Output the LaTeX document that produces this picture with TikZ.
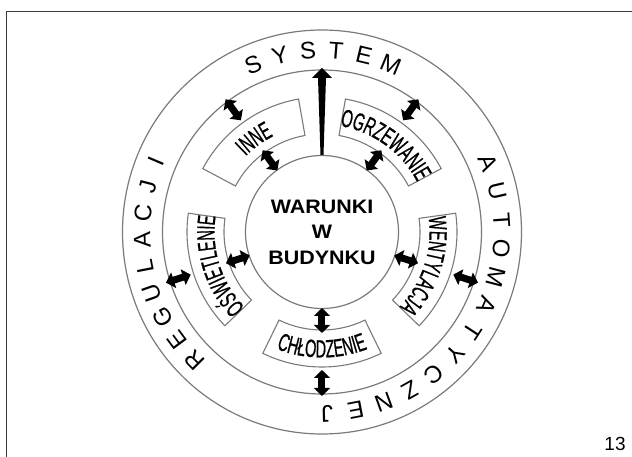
\documentclass[tikz,border=0pt]{standalone}
\usepackage{fontspec}
\setmainfont{Liberation Sans}
\newfontfamily\narrowfont[FakeStretch=0.58, FakeBold=0.6]{Liberation Sans}
\newfontfamily\widefont[FakeStretch=1.1]{Liberation Sans}
\usetikzlibrary{arrows.meta, decorations.text, calc}
\definecolor{RingGray}{HTML}{7A7A7A}
\definecolor{FrameGray}{HTML}{3A3A3A}
\newcommand{\boxfont}{\narrowfont\fontsize{25}{25}\selectfont}

\tikzset{
  ring/.style={draw=RingGray, line width=1.2pt},
  sectorbox/.style={draw=RingGray, line width=1.1pt},
  link/.style={line width=7pt,
    {Triangle[length=8pt,width=16pt]}-{Triangle[length=8pt,width=16pt]}},
  ringletter/.style={inner sep=0pt, font=\fontsize{24}{24}\selectfont},
  boxlabel/.style={decorate, decoration={text along path, text align=center,
    text={|\boxfont|#1}}}
}

\begin{document}
\begin{tikzpicture}[x=1pt, y=1pt]
  \useasboundingbox (-322,-225) rectangle (310,232);

  % Slide frame
  \draw[FrameGray, line width=1.6pt] (-315.5,-225) -- (-315.5,220.5) -- (310,220.5);

  % Rings
  \draw[ring] (0,0) ellipse [x radius=199.5pt, y radius=202pt];
  \draw[ring] (0,0) ellipse [x radius=159.5pt, y radius=162pt];
  \node[ring, circle, minimum size=153pt, inner sep=0pt, align=center,
        font=\widefont\bfseries\fontsize{19.5}{25.5}\selectfont] (core) at (0,0)
    {WARUNKI\\W\\BUDYNKU};

  % Sector boxes
  \foreach \a in {126,54,-18,-90,198}
    \draw[sectorbox] ({\a+26}:98pt) arc[start angle={\a+26}, end angle={\a-26}, radius=98pt]
      -- ({\a-26}:135pt) arc[start angle={\a-26}, end angle={\a+26}, radius=135pt] -- cycle;

  % Box labels
  \path[boxlabel=INNE] (166:107.5pt) arc[start angle=166, end angle=86, radius=107.5pt];
  \path[boxlabel=OGRZEWANIE] (94:107.5pt) arc[start angle=94, end angle=14, radius=107.5pt];
  \path[boxlabel=WENTYLACJA] (22:107.5pt) arc[start angle=22, end angle=-58, radius=107.5pt];
  \path[boxlabel=OŚWIETLENIE] (238:107.5pt) arc[start angle=238, end angle=158, radius=107.5pt];
  \path[boxlabel=CHŁODZENIE] (-130:125.5pt) arc[start angle=-130, end angle=-50, radius=125.5pt];

  % Double arrows between core, boxes and ring
  \foreach \a [count=\i] in {126,54,-18,-90,198} {
    \coordinate (ina\i) at (\a:76pt);
    \coordinate (inb\i) at (\a:101pt);
    \coordinate (outa\i) at (\a:138pt);
    \coordinate (outb\i) at (\a:164pt);
    \draw[link] (ina\i) -- (inb\i);
    \draw[link] (outa\i) -- (outb\i);
  }

  % Main output arrow
  \coordinate (ringtop) at (0,164);
  \fill ($(core.north)+(-1.5,0)$) -- ($(ringtop)+(-4,-10)$) -- ($(ringtop)+(-10,-10)$)
    -- (ringtop) -- ($(ringtop)+(10,-10)$) -- ($(ringtop)+(4,-10)$)
    -- ($(core.north)+(1.5,0)$) -- cycle;

  % Ring text
  \foreach \ch [count=\i from 0, evaluate=\i as \a using 112.5-9*\i] in {S,Y,S,T,E,M}
    \node[ringletter, rotate=\a-90] (sys\i) at (\a:180pt and 181.5pt) {\ch};
  \foreach \ch [count=\i from 0, evaluate=\i as \a using 22.3-9.225*\i] in {A,U,T,O,M,A,T,Y,C,Z,N,E,J}
    \node[ringletter, rotate=\a-90] (aut\i) at (\a:180pt and 181.5pt) {\ch};
  \foreach \ch [count=\i from 0, evaluate=\i as \a using 225-8.5*\i] in {R,E,G,U,L,A,C,J,I}
    \node[ringletter, rotate=\a-90] (reg\i) at (\a:180pt and 181.5pt) {\ch};

  % Page number
  \node[font=\fontsize{19}{19}\selectfont] (pagenum) at (293,-212) {13};
\end{tikzpicture}
\end{document}
